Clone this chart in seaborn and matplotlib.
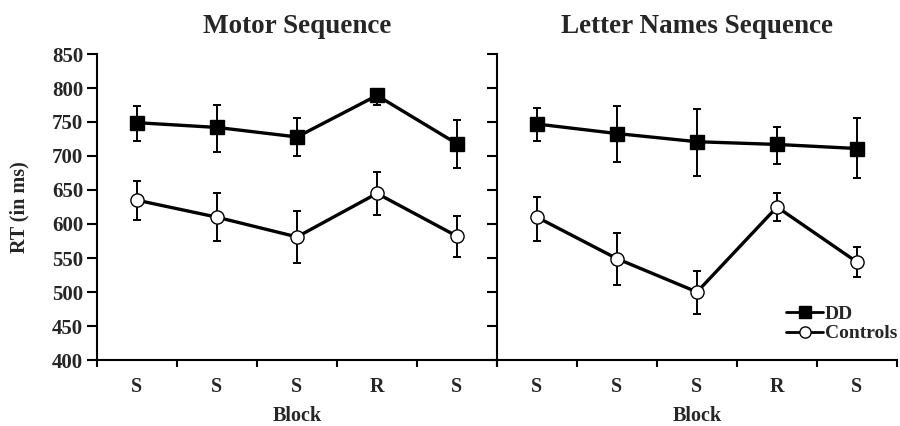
import matplotlib
matplotlib.use("Agg")
import matplotlib.pyplot as plt
import seaborn as sns
import numpy as np
import pandas as pd

# ---- data ----
blocks = ["S", "S", "S", "R", "S"]
y_ticks = [400, 450, 500, 550, 600, 650, 700, 750, 800, 850]
panels = ["Motor Sequence", "Letter Names Sequence"]

motor_dd = [749, 742, 728, 789, 718]
motor_dd_hi = [773, 775, 756, 797, 753]
motor_dd_lo = [722, 706, 700, 775, 682]
motor_ctrl = [635, 610, 581, 645, 582]
motor_ctrl_hi = [663, 645, 619, 677, 612]
motor_ctrl_lo = [606, 575, 543, 613, 551]

letter_dd = [747, 733, 721, 717, 711]
letter_dd_hi = [771, 773, 769, 743, 756]
letter_dd_lo = [722, 691, 671, 688, 667]
letter_ctrl = [610, 549, 500, 625, 544]
letter_ctrl_hi = [639, 587, 531, 645, 566]
letter_ctrl_lo = [575, 510, 468, 604, 522]

sns.set_theme(style="white")
plt.rcParams["font.family"] = ["Liberation Serif", "DejaVu Serif"]
plt.rcParams["font.weight"] = "bold"

fig = plt.figure(figsize=(9, 4.26), dpi=100)
ax1 = fig.add_axes([97 / 900, 1 - 360 / 426, 400 / 900, 306 / 426])
ax2 = fig.add_axes([497 / 900, 1 - 360 / 426, 400 / 900, 306 / 426])

data = [
    (motor_dd, motor_dd_lo, motor_dd_hi, motor_ctrl, motor_ctrl_lo, motor_ctrl_hi),
    (letter_dd, letter_dd_lo, letter_dd_hi, letter_ctrl, letter_ctrl_lo, letter_ctrl_hi),
]

x = np.arange(len(blocks))
for i, (ax, title, d) in enumerate(zip([ax1, ax2], panels, data)):
    dd, ddlo, ddhi, ct, ctlo, cthi = [np.array(v, dtype=float) for v in d]
    ax.errorbar(x, dd, yerr=[dd - ddlo, ddhi - dd], fmt="none", ecolor="black",
                elinewidth=1.4, capsize=3, capthick=1.4, zorder=2)
    ax.errorbar(x, ct, yerr=[ct - ctlo, cthi - ct], fmt="none", ecolor="black",
                elinewidth=1.4, capsize=3, capthick=1.4, zorder=2)
    df_dd = pd.DataFrame({"x": x, "y": dd})
    df_ct = pd.DataFrame({"x": x, "y": ct})
    sns.lineplot(data=df_dd, x="x", y="y", ax=ax, color="black", linewidth=2.4,
                 marker="s", markersize=9.5, markerfacecolor="black",
                 markeredgecolor="black", markeredgewidth=1, label="DD", zorder=3)
    sns.lineplot(data=df_ct, x="x", y="y", ax=ax, color="black", linewidth=2.4,
                 marker="o", markersize=9.5, markerfacecolor="white",
                 markeredgecolor="black", markeredgewidth=1, label="Controls", zorder=3)

    ax.set_xlim(-0.5, len(blocks) - 0.5)
    ax.set_ylim(400, 850)
    ax.set_yticks(y_ticks)
    ax.set_xticks(x)
    ax.set_xticklabels(blocks, fontsize=14.5, fontweight="bold")
    ax.set_xticks(np.arange(-0.5, len(blocks), 1.0), minor=True)
    ax.tick_params(axis="x", which="major", length=0, pad=12)
    ax.tick_params(axis="x", which="minor", length=5, width=1.5, direction="out",
                   bottom=True, color="black")
    ax.tick_params(axis="y", which="major", length=7, width=1.5, direction="out",
                   left=True, color="black", labelsize=15, pad=3)
    for lab in ax.get_yticklabels():
        lab.set_fontweight("bold")
    ax.set_xlabel("Block", fontsize=14.5, fontweight="bold", labelpad=7)
    ax.set_title(title, fontsize=19.5, fontweight="bold", pad=15)
    for s in ["top", "right"]:
        ax.spines[s].set_visible(False)
    for s in ["left", "bottom"]:
        ax.spines[s].set_color("black")
        ax.spines[s].set_linewidth(1.5)
    ax.set_facecolor("none")
    if i == 0:
        ax.set_ylabel("RT (in ms)", fontsize=14.5, fontweight="bold", labelpad=16)
        ax.get_legend().remove()
    else:
        ax.set_ylabel("")
        ax.set_yticklabels([])
        leg = ax.legend(loc="lower right", bbox_to_anchor=(1.045, 0.0), frameon=False,
                        handlelength=1.9, handletextpad=0.1, labelspacing=0.1,
                        markerscale=0.85,
                        prop={"family": "Liberation Serif", "weight": "bold", "size": 14})
        for h in leg.legend_handles:
            h.set_linewidth(2.0)

fig.savefig("out.png", dpi=100, facecolor="white")
